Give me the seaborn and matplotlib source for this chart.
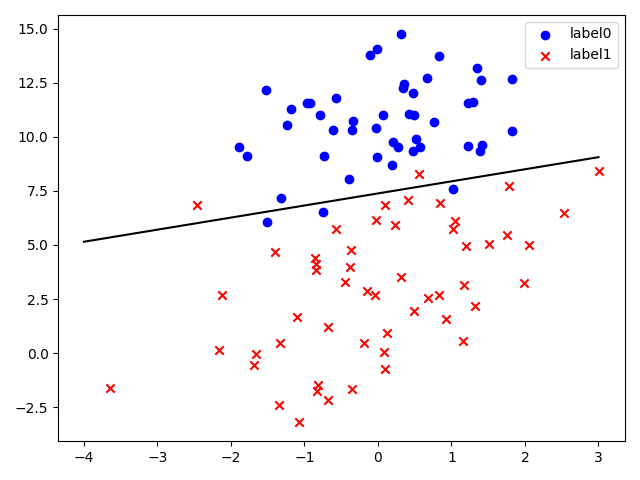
import numpy as np
import pandas as pd
import matplotlib
matplotlib.use("Agg")
import matplotlib.pyplot as plt
import seaborn as sns

# label0 points
x0 = [-0.017612, -0.752157, -1.322371, 0.423363, 0.667394, 0.569411, -0.026632, 1.347183,
      -1.781871, -0.576525, 1.217916, -0.733928, 1.416614, 1.224863, 0.275221, 0.470575,
      -1.889567, -1.527893, -1.185247, -0.618787, -1.237728, -0.959885, 0.492911, 0.184992,
      -0.355715, -0.397822, 0.824839, -0.344008, -0.918801, -0.007194, 0.356107, 0.342578,
      1.296683, 0.475487, -0.783277, 0.074798, -0.102781, 0.518389, 1.015399, -1.510047,
      1.821096, 1.400102, 1.825662, 0.197445, 0.761349, 1.388610, 0.317029]
y0 = [14.053064, 6.538620, 7.152853, 11.054677, 12.741452, 9.548755, 10.427743, 13.175500,
      9.097953, 11.778922, 9.597015, 9.098687, 9.619232, 11.587360, 9.543647, 9.332488,
      9.542662, 12.150579, 11.309318, 10.320986, 10.549033, 11.555336, 10.993324, 8.721488,
      10.325976, 8.058397, 13.730343, 10.717485, 11.560217, 9.075792, 12.447863, 12.281162,
      11.607559, 12.040035, 11.009725, 11.023650, 13.763651, 9.887035, 7.571882, 6.061992,
      10.283990, 12.628781, 12.693808, 9.744638, 10.693862, 9.341997, 14.739025]

# label1 points
x1 = [-1.395634, 0.406704, -2.460150, 0.850433, 1.176813, -0.566606, 0.931635, -0.024205,
      -0.036453, -0.196949, 1.014459, 1.985298, -1.693453, -0.346811, -2.124484, -3.642001,
      0.315985, -0.386323, 0.556921, -1.347803, 1.196604, -0.445678, 1.042222, 1.152083,
      0.828534, -0.683565, 0.229456, 1.507278, 0.099671, 1.785928, -0.364009, -0.841722,
      0.490426, -0.810823, 2.530777, -1.337472, -0.147324, -1.658086, 1.319944, 2.056216,
      -0.851633, -1.076637, 3.010150, -1.099458, -0.834872, -0.846637, 1.752842, 0.078557,
      0.089392, 0.126117, -0.679797, 0.677983, -2.168791]
y1 = [4.662541, 7.067335, 6.866805, 6.920334, 3.167020, 5.749003, 1.589505, 6.151823,
      2.690988, 0.444165, 5.754399, 3.230619, -0.557540, -1.678730, 2.672471, -1.618087,
      3.523953, 3.989286, 8.294984, -2.406051, 4.951851, 3.297303, 6.105155, 0.548467,
      2.676045, -2.166125, 5.921938, 5.027866, 6.835839, 7.718645, 4.747300, 4.119083,
      1.960539, -1.466018, 6.476801, 0.468339, 2.874846, -0.027255, 2.171228, 5.019981,
      4.375691, -3.181888, 8.401766, 1.688274, -1.733869, 3.849075, 5.468166, 0.059736,
      -0.715300, 0.922311, 1.220530, 2.556666, 0.143632]

# decision boundary endpoints
line_x = [-4.0, 3.0]
line_y = [5.15, 9.06]

fig, ax = plt.subplots(figsize=(6.4, 4.8), dpi=100)
sns.scatterplot(x=x0, y=y0, ax=ax, color="blue", marker="o", s=36,
                edgecolor="blue", linewidth=1, label="label0")
sns.scatterplot(x=x1, y=y1, ax=ax, color="red", marker="x", s=36, linewidth=1.5, label="label1")
sns.lineplot(x=line_x, y=line_y, ax=ax, color="black", linewidth=1.5)
ax.legend(loc="upper right")
fig.tight_layout()
fig.savefig("out.png")
